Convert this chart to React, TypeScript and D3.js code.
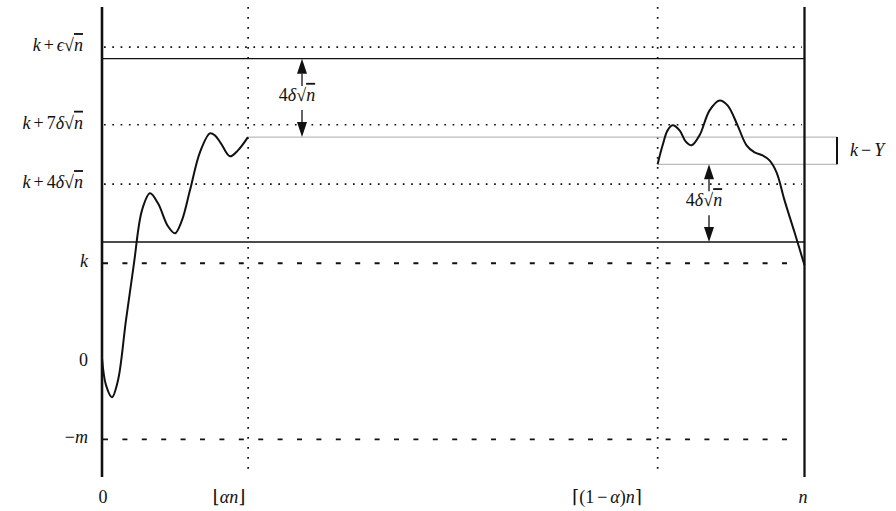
import React from "react";
import * as d3 from "d3";

const W = 896;
const H = 511;

// x in units of n = 100, y in arbitrary units (k = 10, δ√n = 2)
const xDomain = [0, 100];
const yDomain = [-11.5, 35.8];

type Seg = { t: string; i?: boolean; sqrt?: boolean; op?: boolean };

const xMarks = [0, 20.8, 79.1, 100];
const xLabelTexts: Seg[][] = [
  [{ t: "0" }],
  [{ t: "⌊" }, { t: "αn", i: true }, { t: "⌋" }],
  [{ t: "⌈(1" }, { t: "−", op: true }, { t: "α", i: true }, { t: ")" }, { t: "n", i: true }, { t: "⌉" }],
  [{ t: "n", i: true }],
];
const xLabelCenter = [103, 229, 607, 803];

const dottedLevels = [31.85, 24, 18];
const dashedLevels = [10, -7.8];
const solidLevels = [30.68, 12.15];
const grayTop = 22.75;
const grayBottom = 20;

const yLabelValues = [31.85, 24, 18, 10, 0, -7.8];
const yLabelTexts: Seg[][] = [
  [{ t: "k", i: true }, { t: "+", op: true }, { t: "ϵ", i: true }, { t: "n", sqrt: true }],
  [{ t: "k", i: true }, { t: "+", op: true }, { t: "7" }, { t: "δ", i: true }, { t: "n", sqrt: true }],
  [{ t: "k", i: true }, { t: "+", op: true }, { t: "4" }, { t: "δ", i: true }, { t: "n", sqrt: true }],
  [{ t: "k", i: true }],
  [{ t: "0" }],
  [{ t: "−" }, { t: "m", i: true }],
];
const yLabelEnd = [83, 83, 83, 88, 88, 88];

const leftX = [0, 0.57, 1.42, 2.28, 3.41, 4.55, 5.69, 6.83, 7.97, 9.39, 10.38, 11.38, 12.52, 13.94, 15.36, 16.07, 16.93, 18.21, 19.35, 20.77];
const leftY = [0.4, -2.32, -3.54, -1.82, 4.24, 10.0, 15.35, 17.07, 16.06, 13.74, 13.03, 14.34, 17.37, 21.21, 23.13, 22.93, 22.12, 20.81, 21.41, 22.75];

const rightX = [79.09, 79.8, 80.51, 81.22, 82.22, 83.07, 83.93, 85.06, 86.49, 87.91, 89.05, 90.47, 91.75, 92.89, 94.03, 95.02, 96.02, 97.16, 98.58, 100];
const rightY = [20.0, 21.92, 23.43, 23.94, 23.43, 22.32, 21.92, 22.93, 25.45, 26.46, 25.96, 23.94, 21.92, 21.21, 20.91, 20.4, 19.19, 16.36, 13.13, 9.8];

const FONT = "'Liberation Serif', 'DejaVu Serif', serif";
const FS = 18;

function MathText({ segs, x, y, anchor, size = FS }: { segs: Seg[]; x: number; y: number; anchor: string; size?: number }) {
  const pad = 3;
  const out: React.ReactNode[] = [];
  segs.forEach((s, j) => {
    const prevOp = j > 0 && segs[j - 1].op;
    const dx = s.op || prevOp ? pad : 0;
    if (s.sqrt) {
      out.push(
        <tspan key={j + "r"} dx={dx}>√</tspan>,
        <tspan key={j + "n"} fontStyle="italic" style={{ textDecoration: "overline" }}>{s.t}</tspan>
      );
    } else {
      out.push(
        <tspan key={j} dx={dx} fontStyle={s.i ? "italic" : "normal"}>{s.t}</tspan>
      );
    }
  });
  return (
    <text x={x} y={y} textAnchor={anchor} fontFamily={FONT} fontSize={size} fill="#111" dominantBaseline="middle">
      {out}
    </text>
  );
}

function Arrow({ x, y1, y2, label }: { x: number; y1: number; y2: number; label: Seg[] }) {
  const mid = (y1 + y2) / 2;
  const head = 15;
  const hw = 5;
  return (
    <g>
      <path d={`M${x},${y1} L${x - hw},${y1 + head} L${x + hw},${y1 + head} Z`} fill="#111" />
      <line x1={x} x2={x} y1={y1 + head} y2={mid - 12} stroke="#111" strokeWidth={1.3} />
      <line x1={x} x2={x} y1={mid + 12} y2={y2 - head} stroke="#111" strokeWidth={1.3} />
      <path d={`M${x},${y2} L${x - hw},${y2 - head} L${x + hw},${y2 - head} Z`} fill="#111" />
      <MathText segs={label} x={x - 5} y={mid - 1} anchor="middle" />
    </g>
  );
}

export default function App() {
  const x = d3.scaleLinear().domain(xDomain).range([102, 804.5]);
  const y = d3.scaleLinear().domain(yDomain).range([476, 8]);

  const mk = (xs: number[], ys: number[]) =>
    d3
      .line<[number, number]>()
      .x((d) => x(d[0]))
      .y((d) => y(d[1]))
      .curve(d3.curveCatmullRom.alpha(0.5))(xs.map((v, i) => [v, ys[i]]))!;

  const x0 = x(0);
  const xEnd = 802;
  const xBar = 837;
  const fourDelta: Seg[] = [{ t: "4" }, { t: "δ", i: true }, { t: "n", sqrt: true }];

  return (
    <svg width={W} height={H} style={{ position: "absolute", left: 0, top: 0, background: "#fff" }}>
      {/* vertical dotted lines */}
      {[xMarks[1], xMarks[2]].map((v, i) => (
        <line key={i} x1={x(v)} x2={x(v)} y1={7} y2={469} stroke="#111" strokeWidth={1.7} strokeDasharray="1.7 8.3" />
      ))}
      {/* dotted levels */}
      {dottedLevels.map((v, i) => (
        <line key={i} x1={x0 + 2} x2={xEnd} y1={y(v)} y2={y(v)} stroke="#111" strokeWidth={1.6} strokeDasharray="1.7 6.6" />
      ))}
      {/* dashed levels */}
      {dashedLevels.map((v, i) => (
        <line key={i} x1={x0 + 1} x2={xEnd - 8} y1={y(v)} y2={y(v)} stroke="#111" strokeWidth={1.8} strokeDasharray="5 14.4" />
      ))}
      {/* solid barriers */}
      {solidLevels.map((v, i) => (
        <line key={i} x1={x0} x2={x(100)} y1={y(v)} y2={y(v)} stroke="#111" strokeWidth={1.4} />
      ))}
      {/* gray levels */}
      <line x1={x(xMarks[1])} x2={xBar} y1={y(grayTop)} y2={y(grayTop)} stroke="#bbb" strokeWidth={1.4} />
      <line x1={x(xMarks[2])} x2={xBar} y1={y(grayBottom)} y2={y(grayBottom)} stroke="#bbb" strokeWidth={1.4} />
      <line x1={xBar} x2={xBar} y1={y(grayTop)} y2={y(grayBottom)} stroke="#111" strokeWidth={2} />
      <MathText segs={[{ t: "k", i: true }, { t: "−", op: true }, { t: "Y", i: true }]} x={850} y={(y(grayTop) + y(grayBottom)) / 2 + 1} anchor="start" />

      {/* axes */}
      <line x1={x0} x2={x0} y1={7} y2={477} stroke="#111" strokeWidth={2.6} />
      <line x1={x(100)} x2={x(100)} y1={7} y2={477} stroke="#111" strokeWidth={2.3} />

      {/* curves */}
      <path d={mk(leftX, leftY)} fill="none" stroke="#111" strokeWidth={2} />
      <path d={mk(rightX, rightY)} fill="none" stroke="#111" strokeWidth={2} />

      {/* arrows */}
      <Arrow x={302} y1={y(solidLevels[0])} y2={y(grayTop)} label={fourDelta} />
      <Arrow x={709} y1={y(grayBottom)} y2={y(solidLevels[1])} label={fourDelta} />

      {/* y labels */}
      {yLabelValues.map((v, i) => (
        <MathText key={i} segs={yLabelTexts[i]} x={yLabelEnd[i]} y={y(v)} anchor="end" />
      ))}
      {/* x labels */}
      {xMarks.map((v, i) => (
        <MathText key={i} segs={xLabelTexts[i]} x={xLabelCenter[i]} y={499} anchor="middle" />
      ))}
    </svg>
  );
}
